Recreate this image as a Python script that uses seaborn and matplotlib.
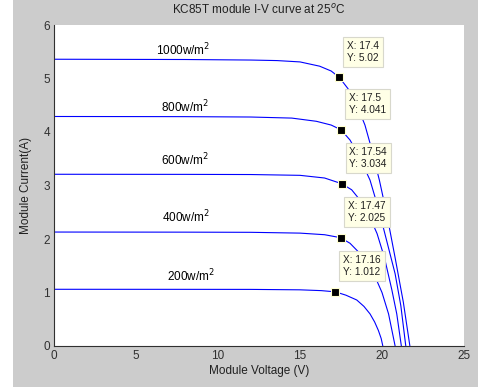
import matplotlib
matplotlib.use("Agg")
import matplotlib.pyplot as plt
import seaborn as sns
import pandas as pd
from matplotlib.patches import Rectangle

# ---- data ----
irradiance = ["1000w/m$^2$", "800w/m$^2$", "600w/m$^2$", "400w/m$^2$", "200w/m$^2$"]

v_1000 = [0, 8, 12, 13.6, 15.0, 16.2, 16.9, 17.4, 18.0, 18.5, 18.96, 19.27, 19.84, 20.3, 20.8, 21.3, 21.7]
i_1000 = [5.36, 5.355, 5.345, 5.335, 5.31, 5.23, 5.14, 5.02, 4.78, 4.48, 4.13, 3.79, 3.10, 2.45, 1.65, 0.82, 0.0]

v_800 = [0, 8, 12, 14.5, 16, 16.9, 17.5, 18.05, 18.6, 19.27, 19.8, 20.3, 20.8, 21.15, 21.45]
i_800 = [4.29, 4.287, 4.28, 4.26, 4.20, 4.13, 4.041, 3.85, 3.55, 3.10, 2.55, 1.95, 1.35, 0.75, 0.0]

v_600 = [0, 8, 12, 15, 16.5, 17.54, 18.15, 18.6, 19.2, 19.7, 20.15, 20.6, 20.9, 21.18]
i_600 = [3.21, 3.208, 3.205, 3.19, 3.14, 3.034, 2.92, 2.75, 2.45, 2.10, 1.65, 1.05, 0.6, 0.0]

v_400 = [0, 8, 12, 15, 16.5, 17.47, 18.05, 18.56, 19.1, 19.6, 20.0, 20.4, 20.8]
i_400 = [2.13, 2.128, 2.125, 2.11, 2.08, 2.025, 1.92, 1.76, 1.55, 1.28, 1.0, 0.6, 0.0]

v_200 = [0, 8, 12, 15, 16.3, 17.16, 17.8, 18.46, 18.9, 19.27, 19.55, 19.78, 19.95, 20.05]
i_200 = [1.06, 1.059, 1.058, 1.05, 1.035, 1.012, 0.95, 0.86, 0.74, 0.60, 0.45, 0.29, 0.14, 0.0]

tip_x = [17.4, 17.5, 17.54, 17.47, 17.16]
tip_y = [5.02, 4.041, 3.034, 2.025, 1.012]
tip_x_text = ["17.4", "17.5", "17.54", "17.47", "17.16"]
tip_y_text = ["5.02", "4.041", "3.034", "2.025", "1.012"]

label_x = [6.2, 6.5, 6.5, 6.6, 6.9]
label_y = [5.53, 4.47, 3.47, 2.42, 1.30]

x_ticks = [0, 5, 10, 15, 20, 25]
y_ticks = [0, 1, 2, 3, 4, 5, 6]

# ---- build table ----
curves = [(v_1000, i_1000), (v_800, i_800), (v_600, i_600), (v_400, i_400), (v_200, i_200)]
rows = []
for name, (vv, ii) in zip(irradiance, curves):
    for k, (a, b) in enumerate(zip(vv, ii)):
        rows.append({"irr": name, "V": a, "I": b, "order": k})
df = pd.DataFrame(rows)
tips = pd.DataFrame({"V": tip_x, "I": tip_y})

sns.set_style("white")
plt.rcParams["font.family"] = ["Liberation Sans", "DejaVu Sans"]

fig = plt.figure(figsize=(4.78, 3.87), dpi=100, facecolor="#cccccc")
fig.patches.append(Rectangle((0, 0), 13 / 478, 1, transform=fig.transFigure,
                             facecolor="white", edgecolor="none", zorder=-1))
ax = fig.add_axes([54 / 478, 41 / 387, 410 / 478, 321 / 387])
ax.set_facecolor("white")

sns.lineplot(data=df, x="V", y="I", hue="irr", units="irr", estimator=None,
             sort=False, palette=["#0000ff"] * 5, linewidth=0.8, legend=False, ax=ax)
sns.scatterplot(data=tips, x="V", y="I", marker="s", s=34, color="black",
                edgecolor="#ffffd0", linewidth=0.8, zorder=5, legend=False, ax=ax)

for xt, yt, tx, ty in zip(tip_x, tip_y, tip_x_text, tip_y_text):
    ax.annotate(f"X: {tx}\nY: {ty}", xy=(xt, yt), xytext=(5.6, 26.5),
                textcoords="offset points", ha="left", va="top", fontsize=7.3,
                color="#202020", linespacing=1.3, zorder=6,
                bbox=dict(boxstyle="square,pad=0.38", facecolor="#ffffe6",
                          edgecolor="#d8d8cc", linewidth=0.8))

for name, lx, ly in zip(irradiance, label_x, label_y):
    ax.text(lx, ly, name, fontsize=8.5, ha="left", va="center", color="black")

ax.set_xlim(0, 25)
ax.set_ylim(0, 6)
ax.set_xticks(x_ticks)
ax.set_yticks(y_ticks)
ax.tick_params(direction="in", length=4, width=0.8, colors="#303030",
               labelsize=8.5, pad=3, top=False, right=False)
for s in ["top", "right"]:
    ax.spines[s].set_visible(False)
for s in ["left", "bottom"]:
    ax.spines[s].set_color("#303030")
    ax.spines[s].set_linewidth(0.8)

ax.set_xlabel("Module Voltage (V)", fontsize=8.5, labelpad=2, color="#202020")
ax.set_ylabel("Module Current(A)", fontsize=8.5, labelpad=8, color="#202020")
ax.set_title("KC85T module I-V curve at 25$^{o}$C", fontsize=8.5, pad=8, color="#202020")

fig.savefig("out.png", dpi=100, facecolor=fig.get_facecolor())
